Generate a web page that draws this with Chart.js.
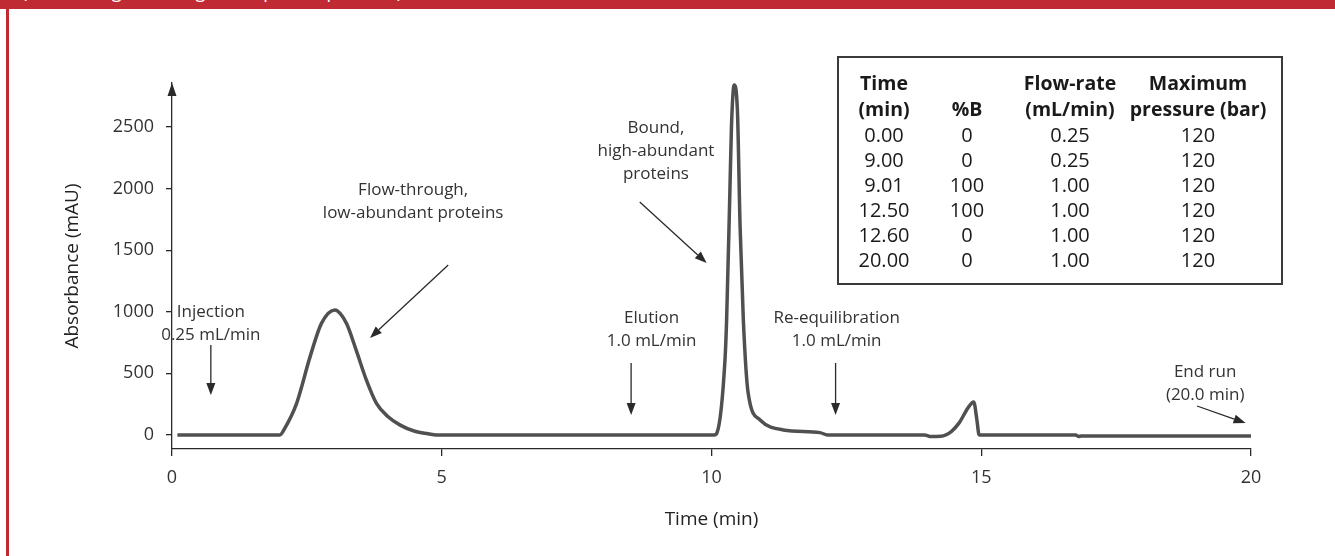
<!DOCTYPE html>
<html>
<head>
<meta charset="utf-8">
<script src="https://cdn.jsdelivr.net/npm/chart.js@4.4.1/dist/chart.umd.min.js"></script>
<style>
  html, body { margin: 0; padding: 0; background: #fff; }
  body { width: 1335px; height: 556px; position: relative; overflow: hidden; font-family: "Open Sans", sans-serif; }
  .topbar { position: absolute; left: 0; top: 0; width: 1335px; height: 9px; background: #bf2a33; overflow: hidden; }
  .topbar span { position: absolute; left: 22px; top: -21px; color: #fff; font-size: 18px; white-space: nowrap; }
  .leftbar { position: absolute; left: 6px; top: 9px; width: 3px; height: 547px; background: #bf2a33; }
  #wrap { position: absolute; left: 0; top: 0; width: 1335px; height: 556px; }
  .gradient { position: absolute; left: 837px; top: 56px; width: 446px; height: 229px; border: 2px solid #3a3a3a; box-sizing: border-box; background: #fff; color: #1a1a1a; }
  .gradient .col { position: absolute; top: 12px; width: 170px; text-align: center; font-size: 20px; }
  .gradient .col b { display: block; line-height: 26px; height: 26px; font-weight: 700; font-size: 19.5px; }
  .gradient .col div { line-height: 25px; height: 25px; }
</style>
</head>
<body>
<div class="topbar"><span>(Chromatogram using the depletion protocol)</span></div>
<div class="leftbar"></div>
<div id="wrap"><canvas id="chromChart"></canvas></div>
<div class="gradient" id="gradTable"></div>

<script>
// trace (time in min, absorbance in mAU)
const timeMin = [0.1, 2.0, 2.09, 2.31, 2.56, 2.77, 3.02, 3.12, 3.24, 3.42, 3.6, 3.79, 4.0, 4.23, 4.5, 4.75, 4.9,
  10.05, 10.1, 10.25, 10.28, 10.34, 10.37, 10.42, 10.48, 10.53, 10.59, 10.68, 10.9, 11.33, 12.01, 12.15,
  13.95, 14.05, 14.25, 14.45, 14.59, 14.77, 14.86, 14.92, 14.96, 15.0,
  16.75, 16.8, 16.85, 20.0];
const absorbance = [0, 0, 54, 257, 636, 906, 1015, 985, 900, 680, 450, 257, 150, 80, 30, 10, 0,
  0, 16, 609, 933, 1962, 2502, 2841, 2638, 1691, 933, 338, 122, 41, 19, 0,
  0, -12, -10, 30, 98, 230, 268, 120, 0, 0,
  0, -12, -8, -8];

const xTicks = [0, 5, 10, 15, 20];
const yTicks = [0, 500, 1000, 1500, 2000, 2500];

// gradient table
const gradTime = ["0.00", "9.00", "9.01", "12.50", "12.60", "20.00"];
const gradB = ["0", "0", "100", "100", "0", "0"];
const gradFlow = ["0.25", "0.25", "1.00", "1.00", "1.00", "1.00"];
const gradPressure = ["120", "120", "120", "120", "120", "120"];

// annotations: text anchored at first line (data units), arrow from -> to
const notes = [
  { lines: ["Injection", "0.25 mL/min"], at: [0.72, 998], from: [0.72, 730], to: [0.72, 325] },
  { lines: ["Flow-through,", "low-abundant proteins"], at: [4.47, 1989], from: [5.12, 1380], to: [3.67, 787] },
  { lines: ["Bound,", "high-abundant", "proteins"], at: [8.97, 2492], from: [8.67, 1891], to: [9.91, 1396] },
  { lines: ["Elution", "1.0 mL/min"], at: [8.89, 950], from: [8.51, 584], to: [8.51, 162] },
  { lines: ["Re-equilibration", "1.0 mL/min"], at: [12.32, 950], from: [12.3, 584], to: [12.3, 162] },
  { lines: ["End run", "(20.0 min)"], at: [19.15, 512], from: [19.0, 235], to: [19.9, 97] }
];

// build table
const tableCols = [
  { head: ["Time", "(min)"], vals: gradTime, cx: 45 },
  { head: ["", "%B"], vals: gradB, cx: 128 },
  { head: ["Flow-rate", "(mL/min)"], vals: gradFlow, cx: 231 },
  { head: ["Maximum", "pressure (bar)"], vals: gradPressure, cx: 359 }
];
const tbl = document.getElementById("gradTable");
tableCols.forEach(c => {
  const col = document.createElement("div");
  col.className = "col";
  col.style.left = (c.cx - 85) + "px";
  col.innerHTML = c.head.map(h => `<b>${h || "&nbsp;"}</b>`).join("") +
    c.vals.map(v => `<div>${v}</div>`).join("");
  tbl.appendChild(col);
});

const INK = "#2a2a2a";
const FONT = "'Open Sans', sans-serif";

function drawArrow(ctx, x1, y1, x2, y2, len, half) {
  const a = Math.atan2(y2 - y1, x2 - x1);
  const bx = x2 - len * Math.cos(a), by = y2 - len * Math.sin(a);
  ctx.beginPath();
  ctx.moveTo(x1, y1);
  ctx.lineTo(bx, by);
  ctx.stroke();
  ctx.beginPath();
  ctx.moveTo(x2, y2);
  ctx.lineTo(bx + half * Math.sin(a), by - half * Math.cos(a));
  ctx.lineTo(bx - half * Math.sin(a), by + half * Math.cos(a));
  ctx.closePath();
  ctx.fill();
}

const notesPlugin = {
  id: "notes",
  afterDraw(chart) {
    const { ctx, chartArea } = chart;
    const xs = chart.scales.x, ys = chart.scales.y;
    ctx.save();
    ctx.strokeStyle = INK;
    ctx.fillStyle = INK;
    ctx.lineWidth = 1.3;
    // arrow tip on y axis
    const ax = chartArea.left, ay = chartArea.top;
    ctx.beginPath();
    ctx.moveTo(ax, ay);
    ctx.lineTo(ax - 4.5, ay + 13);
    ctx.lineTo(ax + 4.5, ay + 13);
    ctx.closePath();
    ctx.fill();

    ctx.font = "17px " + FONT;
    ctx.textAlign = "center";
    ctx.textBaseline = "middle";
    notes.forEach(n => {
      const tx = xs.getPixelForValue(n.at[0]);
      const ty = ys.getPixelForValue(n.at[1]);
      ctx.fillStyle = "#333";
      n.lines.forEach((l, i) => ctx.fillText(l, tx, ty + i * 23));
      ctx.fillStyle = INK;
      drawArrow(ctx,
        xs.getPixelForValue(n.from[0]), ys.getPixelForValue(n.from[1]),
        xs.getPixelForValue(n.to[0]), ys.getPixelForValue(n.to[1]), 12, 4.5);
    });
    ctx.restore();
  }
};

new Chart(document.getElementById("chromChart"), {
  type: "line",
  data: {
    datasets: [{
      data: timeMin.map((t, i) => ({ x: t, y: absorbance[i] })),
      borderColor: "#505050",
      borderWidth: 3.5,
      pointRadius: 0,
      cubicInterpolationMode: "monotone",
      fill: false
    }]
  },
  options: {
    responsive: true,
    maintainAspectRatio: false,
    animation: false,
    layout: { padding: { left: 0, right: 84, top: 83, bottom: 0 } },
    plugins: { legend: { display: false }, tooltip: { enabled: false } },
    scales: {
      x: {
        type: "linear",
        min: 0,
        max: 20,
        afterBuildTicks: axis => { axis.ticks = xTicks.map(v => ({ value: v })); },
        afterFit: scale => { scale.height = 107; },
        border: { display: true, color: INK, width: 1.3 },
        grid: { drawOnChartArea: false, drawTicks: true, tickLength: 7, color: INK, lineWidth: 1.3 },
        ticks: { color: "#333", padding: 11, font: { family: FONT, size: 18 }, callback: v => String(v) },
        title: { display: true, text: "Time (min)", color: "#222", padding: { bottom: 25 }, font: { family: FONT, size: 19 } }
      },
      y: {
        min: -114,
        max: 2857,
        afterBuildTicks: axis => { axis.ticks = yTicks.map(v => ({ value: v })); },
        afterFit: scale => { scale.width = 172; },
        border: { display: true, color: INK, width: 1.3 },
        grid: { drawOnChartArea: false, drawTicks: true, tickLength: 6, color: INK, lineWidth: 1.3 },
        ticks: { color: "#333", padding: 12, font: { family: FONT, size: 18 }, callback: v => String(v) },
        title: { display: true, text: "Absorbance (mAU)", color: "#222", padding: { top: 61 }, font: { family: FONT, size: 19 } }
      }
    }
  },
  plugins: [notesPlugin]
});
</script>
</body>
</html>
